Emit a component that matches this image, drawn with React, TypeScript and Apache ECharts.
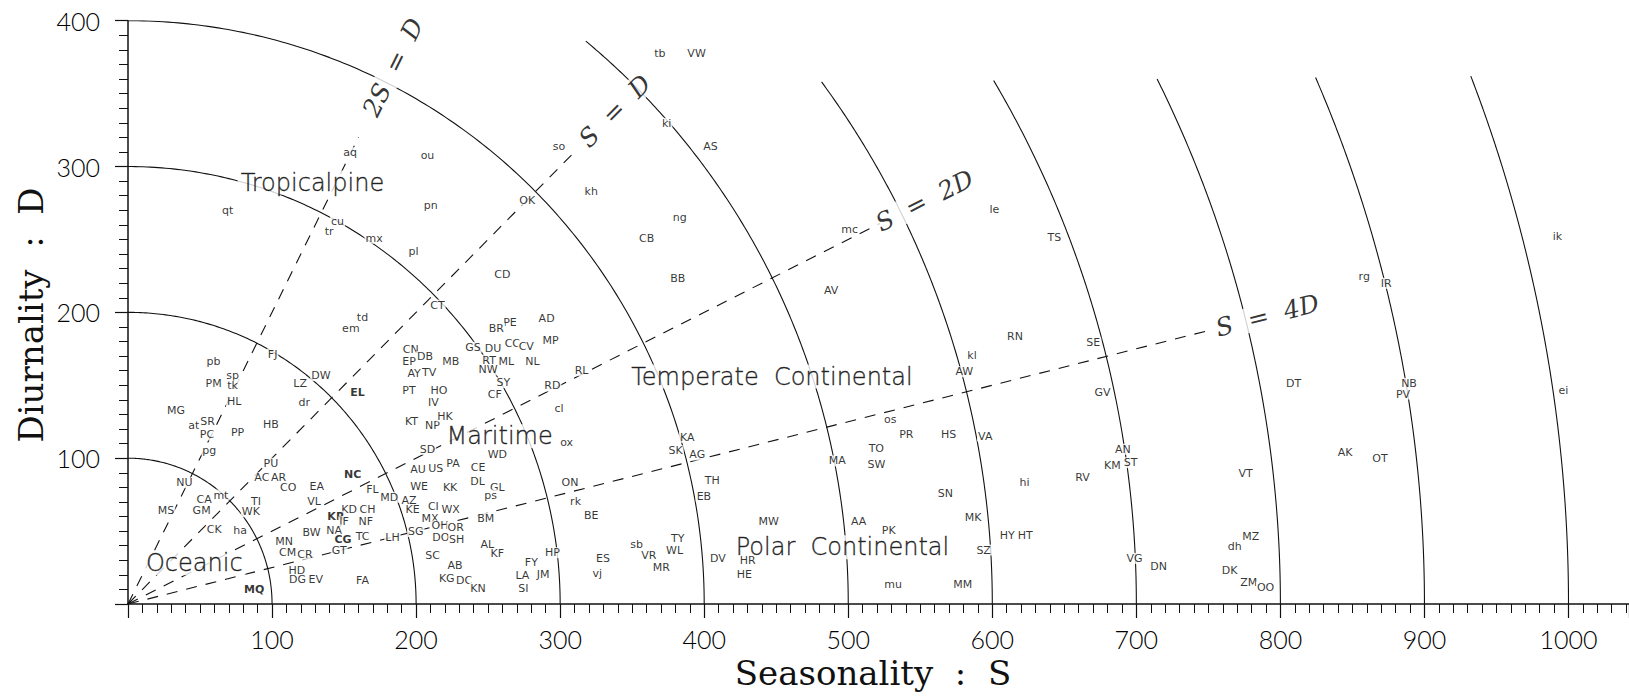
import React, { useEffect, useRef } from "react";
import * as echarts from "echarts";

// ---- data ----
const radii = [100, 200, 300, 400, 500, 600, 700, 800, 900, 1000];
const arcTopD = [400, 400, 400, 400, 386, 358, 359, 360, 361, 362];

const rayNames = ["2S  =  D", "S  =  D", "S  =  2D", "S  =  4D"];
const raySlopes = [2, 1, 0.5, 0.25];
const rayEndS = [160, 310, 522, 752];
const rayLabelS = [184, 338, 553, 791];

const stationCodes = [
  "qt","aq","ou","pn","cu","tr","mx","so","kh","OK","em","td","FJ","DW","pb","sp","PM","tk","HL","LZ",
  "dr","EL","MG","at","SR","HB","pl","CD","CT","PE","BR","AD","MP","GS","DU","CC","CV","CN","DB","EP",
  "MB","RT","ML","NL","NW","AY","TV","SY","RD","RL","CF","PT","HO","IV","cl","KT","NP","HK","PC","PP",
  "pg","PU","AC","AR","CO","EA","NC","NU","CA","mt","TI","VL","MS","GM","WK","KD","CH","KR","JF","NF",
  "CK","ha","BW","NA","MN","CG","TC","GT","CM","CR","HD","DG","EV","MQ","FA","ox","SD","WD","AU","US",
  "PA","CE","DL","GL","ps","ON","rk","BE","FL","MD","WE","KK","AZ","KE","CI","WX","MX","BM","OH","OR",
  "SG","LH","DO","SH","AL","KF","SC","HP","FY","AB","ES","LA","JM","vj","KG","DC","KN","SI","sb","kl",
  "AW","RN","os","PR","HS","VA","KA","SK","AG","TO","MA","SW","TH","EB","SN","MW","AA","MK","PK","HY",
  "TY","VR","WL","SZ","DV","HR","MR","HE","mu","MM","tb","VW","ki","AS","ng","CB","mc","le","BB","AV",
  "TS","rg","IR","ik","SE","GV","DT","NB","PV","ei","AN","KM","ST","AK","OT","hi","RV","VT","HT","MZ",
  "dh","VG","DN","DK","ZM","OO"
];
const stationS = [
  69.2,154.2,207.9,210.2,145.4,139.6,170.8,299.2,321.6,277.2,154.7,162.8,100.4,133.9,59.4,72.6,59.4,72.6,73.7,119.5,
  122.3,159.3,33.3,45.6,55.3,99.2,198.2,259.9,214.8,265.2,255.7,290.6,293.4,239.5,253.4,266.8,276.5,196.3,206.2,195.1,
  224.0,250.7,262.7,280.7,249.9,198.6,209.0,260.6,294.6,314.9,254.6,195.1,215.9,212.0,299.2,196.8,211.4,220.1,54.8,76.1,
  56.4,99.2,92.9,104.5,111.2,131.1,155.9,39.1,52.9,64.5,88.8,129.2,26.4,51.1,85.3,153.5,166.3,144.3,150.0,165.1,
  59.9,77.9,127.4,143.1,108.4,149.3,162.8,146.6,110.8,122.8,117.2,117.7,130.4,87.6,162.8,304.5,207.9,256.4,201.4,213.6,
  225.6,243.0,242.6,256.4,251.8,306.8,310.7,321.6,169.7,181.3,202.1,223.6,195.1,197.5,212.0,224.0,209.7,248.3,216.6,227.5,
  199.8,183.6,217.1,228.2,249.5,256.4,211.4,294.6,280.0,227.0,329.7,273.8,288.1,325.8,221.3,233.3,243.0,274.5,353.1,585.9,
  580.6,615.8,529.2,540.3,569.7,595.1,388.2,380.1,395.2,519.5,492.3,519.5,405.6,399.8,567.4,444.8,507.2,586.6,528.1,610.4,
  381.7,361.6,379.4,594.0,409.5,430.2,370.2,427.9,531.1,579.4,369.2,394.7,373.9,404.4,383.1,360.0,501.0,601.4,381.7,488.1,
  643.1,858.2,873.5,992.3,670.1,676.5,809.2,889.3,885.1,996.5,690.6,683.4,696.0,844.9,869.1,622.3,662.6,775.8,622.8,779.4,
  768.3,698.8,715.4,764.7,778.1,789.7
];
const stationD = [
  269.7,309.5,307.9,273.6,262.2,255.3,250.8,313.6,282.7,277.0,189.0,196.3,171.4,156.6,166.2,156.6,150.9,149.5,138.7,150.9,
  138.3,145.2,132.6,122.7,125.0,123.2,241.6,226.1,205.0,193.2,189.0,195.9,180.6,176.0,174.9,178.3,176.4,174.7,169.6,166.6,
  166.2,167.3,166.2,166.2,160.5,158.2,158.9,151.8,149.5,160.0,144.0,146.7,146.3,138.3,134.2,125.0,122.7,128.9,115.9,117.7,
  105.6,96.5,86.6,86.6,80.0,80.4,88.5,83.2,71.8,74.7,70.6,70.6,64.0,64.0,63.3,64.9,64.9,59.9,56.4,56.4,
  51.2,50.7,48.9,50.7,42.7,44.4,46.6,37.0,35.2,34.1,23.3,16.5,16.9,10.1,15.8,110.6,106.1,102.2,92.4,93.1,
  96.5,93.5,83.9,79.8,74.7,83.5,70.2,60.5,78.2,73.2,80.4,79.8,70.8,64.5,66.7,64.9,58.8,58.8,53.5,52.6,
  49.6,45.5,45.5,43.9,41.1,34.3,33.6,35.2,28.3,26.1,31.3,19.4,20.4,20.6,17.6,15.8,10.8,10.8,40.5,170.7,
  159.3,183.7,126.7,115.9,115.9,115.2,114.3,105.1,102.2,106.3,98.1,95.8,84.6,73.6,75.9,56.4,56.4,59.4,50.3,46.8,
  45.1,33.1,37.0,37.0,31.3,29.5,24.9,20.4,13.7,13.7,377.6,377.6,329.6,313.6,265.2,250.8,256.5,270.2,223.3,215.3,
  251.1,224.5,219.9,251.9,179.2,145.2,150.9,151.3,144.0,146.1,106.1,95.3,96.9,103.8,99.9,83.2,86.6,89.6,47.3,46.2,
  39.3,31.3,25.6,22.8,14.6,11.5
];
const boldCodes = ["MQ", "NC", "EL", "KR", "CG"];

const regionNames = ["Tropicalpine", "Maritime", "Temperate  Continental", "Polar  Continental", "Oceanic"];
const regionS = [128, 258, 447, 496, 46];
const regionD = [289, 115, 156, 39, 28];

const xTicks = [100, 200, 300, 400, 500, 600, 700, 800, 900, 1000];
const yTicks = [100, 200, 300, 400];

// ---- layout ----
const GRID_LEFT = 128;
const GRID_TOP = 20.7;
const GRID_W = 1501;
const GRID_H = 583.3;
const X_MAX = 1042;
const Y_MAX = 400;

export default function App() {
  const ref = useRef<HTMLDivElement>(null);
  useEffect(() => {
    const chart = echarts.init(ref.current!, null, { renderer: "svg" });
    const pxS = GRID_W / X_MAX;
    const pxD = GRID_H / Y_MAX;

    const arcSeries = radii.map((r, i) => {
      const top = Math.min(1, arcTopD[i] / r);
      const t0 = Math.asin(top);
      const pts: number[][] = [];
      const n = 180;
      for (let k = 0; k <= n; k++) {
        const t = t0 - (t0 * k) / n;
        pts.push([r * Math.cos(t), r * Math.sin(t)]);
      }
      return {
        type: "line",
        data: pts,
        showSymbol: false,
        silent: true,
        z: 2,
        lineStyle: { color: "#111", width: 1.1 },
      };
    });

    const raySeries = raySlopes.map((m, i) => ({
      type: "line",
      data: [[0, 0], [rayEndS[i], rayEndS[i] * m]],
      showSymbol: false,
      silent: true,
      z: 2,
      lineStyle: { color: "#111", width: 1.1, type: [11, 9] },
    }));

    const rayLabels = {
      type: "scatter",
      symbolSize: 0,
      z: 6,
      silent: true,
      data: rayNames.map((nm, i) => ({
        name: nm,
        value: [rayLabelS[i], rayLabelS[i] * raySlopes[i]],
        label: { rotate: (Math.atan((raySlopes[i] * pxD) / pxS) * 180) / Math.PI },
      })),
      label: {
        show: true,
        position: "inside",
        formatter: "{b}",
        color: "#000",
        fontFamily: "DejaVu Serif",
        fontStyle: "italic",
        fontSize: 25,
        backgroundColor: "#fff",
        padding: [0, 4],
      },
    };

    const regionLabels = {
      type: "scatter",
      symbolSize: 0,
      z: 5,
      silent: true,
      data: regionNames.map((nm, i) => ({ name: nm, value: [regionS[i], regionD[i]] })),
      label: {
        show: true,
        position: "inside",
        formatter: "{b}",
        color: "#000",
        fontFamily: "DejaVu Sans",
        fontWeight: 200,
        fontSize: 24,
        textBorderColor: "#000",
        textBorderWidth: 0.4,
        backgroundColor: "#fff",
        padding: [0, 3],
      },
    };

    const stationLabels = {
      type: "scatter",
      symbolSize: 0,
      z: 7,
      silent: true,
      data: stationCodes.map((c, i) => ({
        name: c,
        value: [stationS[i], stationD[i]],
        label: boldCodes.includes(c) ? { fontWeight: "bold" } : {},
      })),
      label: {
        show: true,
        position: "inside",
        formatter: "{b}",
        color: "#000",
        fontFamily: "DejaVu Sans",
        fontSize: 11,
        backgroundColor: "#fff",
        padding: [0, 1],
      },
    };

    const option = {
      animation: false,
      backgroundColor: "#fff",
      grid: { left: GRID_LEFT, top: GRID_TOP, width: GRID_W, height: GRID_H, containLabel: false },
      xAxis: {
        type: "value",
        min: 0,
        max: X_MAX,
        interval: 100,
        splitLine: { show: false },
        axisLine: { lineStyle: { color: "#111", width: 1.5 } },
        axisTick: { show: true, length: 14, lineStyle: { color: "#111", width: 1.2 } },
        minorTick: { show: true, splitNumber: 10, length: 9, lineStyle: { color: "#111", width: 1 } },
        axisLabel: {
          margin: 22,
          showMaxLabel: false,
          color: "#000",
          fontFamily: "Lato",
          fontWeight: 300,
          fontSize: 25,
          formatter: (v: number) => (xTicks.includes(v) ? String(v) : ""),
        },
      },
      yAxis: {
        type: "value",
        min: 0,
        max: Y_MAX,
        interval: 100,
        splitLine: { show: false },
        axisLine: { lineStyle: { color: "#111", width: 1.5 } },
        axisTick: { show: true, length: 13, lineStyle: { color: "#111", width: 1.2 } },
        minorTick: { show: true, splitNumber: 10, length: 9, lineStyle: { color: "#111", width: 1 } },
        axisLabel: {
          margin: 28,
          color: "#000",
          fontFamily: "Lato",
          fontWeight: 300,
          fontSize: 25,
          formatter: (v: number) => (yTicks.includes(v) ? String(v) : ""),
        },
      },
      graphic: [
        {
          type: "text",
          x: 873,
          y: 673,
          silent: true,
          style: {
            text: "Seasonality  :  S",
            font: '34px "DejaVu Serif"',
            fill: "#111",
            textAlign: "center",
            textVerticalAlign: "middle",
            align: "center",
            verticalAlign: "middle",
          },
        },
        {
          type: "text",
          x: 31,
          y: 315,
          rotation: Math.PI / 2,
          silent: true,
          style: {
            text: "Diurnality  :  D",
            font: '34px "DejaVu Serif"',
            fill: "#111",
            textAlign: "center",
            textVerticalAlign: "middle",
            align: "center",
            verticalAlign: "middle",
          },
        },
      ],
      series: [...arcSeries, ...raySeries, regionLabels, rayLabels, stationLabels],
    };
    chart.setOption(option as any);
    return () => chart.dispose();
  }, []);
  return (
    <div
      ref={ref}
      style={{ position: "absolute", left: 0, top: 0, width: 1629, height: 696, background: "#fff" }}
    />
  );
}
